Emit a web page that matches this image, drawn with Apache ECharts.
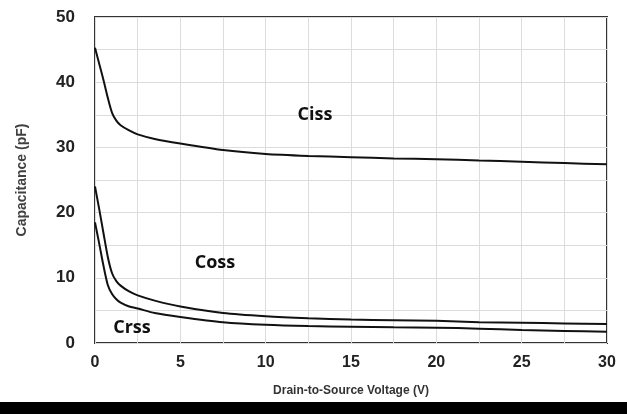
<!DOCTYPE html>
<html><head><meta charset="utf-8">
<script src="https://cdn.jsdelivr.net/npm/echarts@6/dist/echarts.min.js"></script>
<style>html,body{margin:0;padding:0;background:#fff}#c{width:627px;height:414px}</style>
</head><body><div id="c"></div>
<script>
const xTicks = [0, 5, 10, 15, 20, 25, 30];
const yTicks = [0, 10, 20, 30, 40, 50];
const voltage = [0, 0.25, 0.5, 0.75, 1.0, 1.25, 1.5, 2, 2.5, 3.5, 5, 7.5, 10, 12.5, 15, 17.5, 20, 22.5, 25, 27.5, 30];
const ciss = [45.3, 42.8, 40.3, 37.6, 35.3, 34.1, 33.4, 32.6, 32.0, 31.3, 30.6, 29.6, 29.0, 28.7, 28.5, 28.3, 28.2, 28.0, 27.8, 27.6, 27.4];
const coss = [24.0, 20.5, 16.8, 13.2, 10.7, 9.5, 8.8, 7.9, 7.3, 6.5, 5.6, 4.6, 4.1, 3.8, 3.6, 3.5, 3.4, 3.2, 3.1, 3.0, 2.9];
const crss = [18.5, 15.2, 11.8, 8.9, 7.5, 6.7, 6.2, 5.6, 5.3, 4.6, 4.0, 3.2, 2.8, 2.6, 2.5, 2.4, 2.35, 2.2, 2.0, 1.85, 1.73];
const seriesNames = ['Ciss', 'Coss', 'Crss'];
const xTitle = 'Drain-to-Source Voltage (V)';
const yTitle = 'Capacitance (pF)';

const chart = echarts.init(document.getElementById('c'));
const mk = (name, vals) => ({
  name, type: 'line', smooth: 0.25, symbol: 'none',
  data: voltage.map((v, i) => [v, vals[i]]),
  lineStyle: { color: '#111', width: 2 }
});
const onlyTicks = ticks => v => (ticks.indexOf(v) >= 0 ? String(v) : '');
const labFont = 'bold 18px "Open Sans", sans-serif';
chart.setOption({
  animation: false,
  grid: { left: 95, right: 20, top: 17, bottom: 71, show: true, borderColor: '#333', borderWidth: 2, backgroundColor: 'transparent' },
  xAxis: {
    type: 'value', min: xTicks[0], max: xTicks[xTicks.length - 1], interval: 2.5,
    axisLine: { show: false }, axisTick: { show: false },
    axisLabel: { color: '#222', fontFamily: 'Liberation Sans', fontWeight: 'bold', fontSize: 16, margin: 12, formatter: onlyTicks(xTicks) },
    splitLine: { show: true, lineStyle: { color: '#dcdcdc', width: 1 } },
    name: xTitle, nameLocation: 'middle', nameGap: 42,
    nameTextStyle: { color: '#333', fontFamily: 'Liberation Sans', fontWeight: 'bold', fontSize: 12 }
  },
  yAxis: {
    type: 'value', min: yTicks[0], max: yTicks[yTicks.length - 1], interval: 5,
    axisLine: { show: false }, axisTick: { show: false },
    axisLabel: { color: '#222', fontFamily: 'Liberation Sans', fontWeight: 'bold', fontSize: 17, margin: 20, formatter: onlyTicks(yTicks) },
    splitLine: { show: true, lineStyle: { color: '#dcdcdc', width: 1 } },
    name: yTitle, nameLocation: 'middle', nameGap: 66, nameRotate: 90,
    nameTextStyle: { color: '#404040', fontFamily: 'Liberation Sans', fontWeight: 'bold', fontSize: 14 }
  },
  series: [mk(seriesNames[0], ciss), mk(seriesNames[1], coss), mk(seriesNames[2], crss)],
  graphic: [
    { type: 'text', z: 100, x: 315, y: 115, style: { text: seriesNames[0], font: labFont, fill: '#111', align: 'center', verticalAlign: 'middle' } },
    { type: 'text', z: 100, x: 215, y: 263, style: { text: seriesNames[1], font: labFont, fill: '#111', align: 'center', verticalAlign: 'middle' } },
    { type: 'text', z: 100, x: 132, y: 328, style: { text: seriesNames[2], font: labFont, fill: '#111', align: 'center', verticalAlign: 'middle' } },
    { type: 'rect', left: 0, top: 402, shape: { width: 627, height: 12 }, style: { fill: '#000' } }
  ]
});
</script></body></html>
